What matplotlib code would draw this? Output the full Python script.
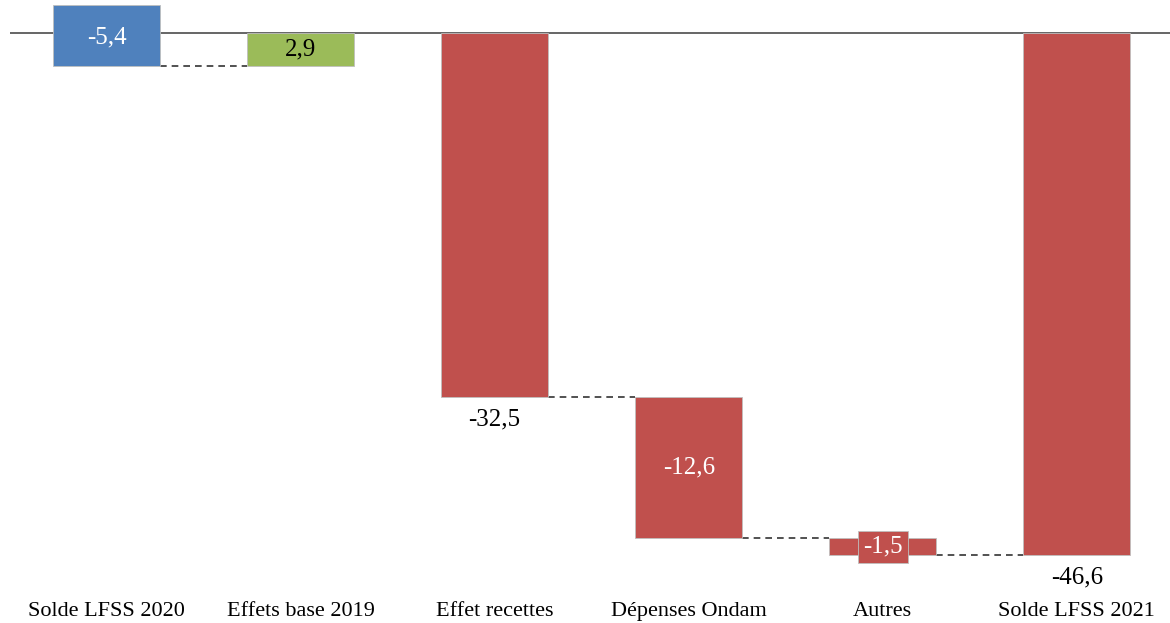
import matplotlib.pyplot as plt

categories = ["Solde LFSS 2020", "Effets base 2019", "Effet recettes",
              "Dépenses Ondam", "Autres", "Solde LFSS 2021"]
bar_top = [2.5, 0, 0, -32.5, -45.1, 0]
bar_bottom = [-2.9, -2.9, -32.5, -45.1, -46.6, -46.6]
labels = ["-5,4", "2,9", "-32,5", "-12,6", "-1,5", "-46,6"]
colors = ["#4F81BD", "#9BBB59", "#C0504D", "#C0504D", "#C0504D", "#C0504D"]

plt.rcParams['font.family'] = ['Liberation Serif', 'DejaVu Serif']

fig = plt.figure(figsize=(11.7, 6.23), dpi=100)
ax = fig.add_axes([9.5 / 1170, 0, 1 - 9.5 / 1170, 1])
ax.set_xlim(-0.5, 5.48)
ax.set_ylim(-52.68, 2.95)
ax.axis('off')

w = 0.55
x = list(range(len(categories)))
heights = [t - b for t, b in zip(bar_top, bar_bottom)]
ax.bar(x, heights, bottom=bar_bottom, width=w, color=colors,
       edgecolor='#BFBFBF', linewidth=0.6, zorder=2)

# ligne du zéro
ax.axhline(0, color='#595959', linewidth=1.3, zorder=1)

# connecteurs en pointillés
dash = dict(ls=(0, (4, 3)), color='#333333', lw=1.2, zorder=1)
ax.plot([0 + w / 2, 1 - w / 2], [bar_bottom[0]] * 2, **dash)
ax.plot([2 + w / 2, 3 - w / 2], [bar_top[3]] * 2, **dash)
ax.plot([3 + w / 2, 4 - w / 2], [bar_bottom[3]] * 2, **dash)
ax.plot([4 + w / 2, 5 - w / 2], [bar_bottom[4]] * 2, **dash)

fs = 18
# étiquettes de valeurs
ax.text(0, -0.4, labels[0], ha='center', va='center',
        color='white', fontsize=fs, zorder=3)
ax.text(1, (bar_top[1] + bar_bottom[1]) / 2, labels[1], ha='center', va='center',
        color='black', fontsize=fs, zorder=3)
ax.text(2, bar_bottom[2] - 2.0, labels[2], ha='center', va='center',
        color='black', fontsize=fs, zorder=3)
ax.text(3, (bar_top[3] + bar_bottom[3]) / 2, labels[3], ha='center', va='center',
        color='white', fontsize=fs, zorder=3)
ax.text(4, (bar_top[4] + bar_bottom[4]) / 2, labels[4], ha='center', va='center',
        color='white', fontsize=fs, zorder=3,
        bbox=dict(boxstyle='square,pad=0.2', facecolor='#C0504D', edgecolor='#BFBFBF', linewidth=0.6))
ax.text(5, bar_bottom[5] - 2.0, labels[5], ha='center', va='center',
        color='black', fontsize=fs, zorder=3)

# libellés des catégories
for i, c in enumerate(categories):
    ax.text(i, -51.65, c, ha='center', va='center', fontsize=16, color='black')

fig.savefig('out.png', dpi=100)
